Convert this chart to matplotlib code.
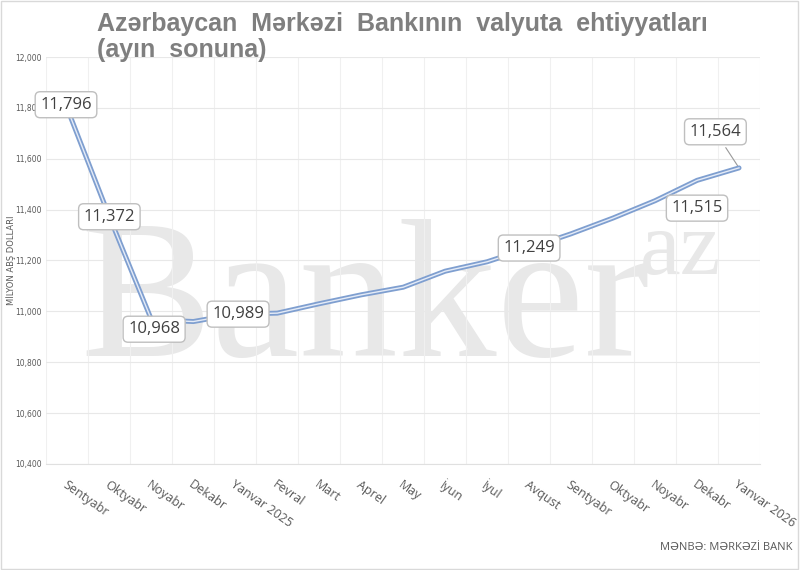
import matplotlib.pyplot as plt
import numpy as np

months = ['Sentyabr', 'Oktyabr', 'Noyabr', 'Dekabr', 'Yanvar 2025', 'Fevral', 'Mart',
          'Aprel', 'May', 'İyun', 'İyul', 'Avqust', 'Sentyabr', 'Oktyabr', 'Noyabr',
          'Dekabr', 'Yanvar 2026']
reserves = [11796, 11372, 10968, 10960, 10989, 10993, 11030, 11065, 11095, 11158,
            11195, 11249, 11305, 11367, 11435, 11515, 11564]
# indices of labelled points and label offsets (points)
labelled = {0: (-1, 3), 1: (0, 0), 2: (2, -7), 4: (2, 0), 11: (0, 0),
            15: (0, -20), 16: (-17, 26)}

fig = plt.figure(figsize=(8, 5.7), dpi=100)
ax = fig.add_axes([0.058, 0.186, 0.892, 0.714])
x = np.arange(len(months))

# watermark, drawn beneath the axes
fig.text(0.1, 0.375, 'Banker', fontsize=142, family='Liberation Serif', color='#e8e8e8', zorder=-1)
fig.text(0.80, 0.52, 'az', fontsize=66, family='Liberation Serif', color='#e8e8e8', zorder=-1)

ax.plot(x, reserves, color='#7f9fd0', lw=3.6, solid_capstyle='round', zorder=3)
ax.plot(x, reserves, color='#e4ebf7', lw=1.0, zorder=4)

for i, (dx, dy) in labelled.items():
    kw = {}
    if i == 16:
        kw = dict(arrowprops=dict(arrowstyle='-', color='#999999', lw=0.8))
    ax.annotate(f'{reserves[i]:,}', (x[i], reserves[i]), xytext=(dx, dy),
                textcoords='offset points', ha='center', va='center',
                fontsize=12, family='Open Sans', color='#404040', zorder=5,
                bbox=dict(boxstyle='round,pad=0.3', fc='white', ec='#bfbfbf', lw=1), **kw)

ax.set_xlim(-0.5, len(months) - 0.5)
ax.set_ylim(10400, 12000)
ax.set_yticks(np.arange(10400, 12001, 200))
ax.yaxis.set_major_formatter(plt.FuncFormatter(lambda v, p: f'{int(v):,}'))
ax.set_xticks(x)
ax.set_xticklabels(months, rotation=-35, ha='left', rotation_mode='anchor',
                   fontsize=9, family=['Open Sans', 'DejaVu Sans'], color='#595959')
ax.set_xticks(np.arange(-0.5, len(months)), minor=True)
ax.tick_params(axis='y', labelsize=5.5, colors='#595959', length=0)
ax.tick_params(axis='x', length=0, pad=10)
ax.tick_params(which='minor', length=0)
ax.grid(axis='y', color='#e8e8e8', lw=0.8)
ax.grid(axis='x', which='minor', color='#f0f0f0', lw=0.8)
ax.set_facecolor('none')
for s in ['top', 'right', 'left']:
    ax.spines[s].set_visible(False)
ax.spines['bottom'].set_color('#e0e0e0')
ax.set_ylabel('MİLYON ABŞ DOLLARI', fontsize=6, color='#595959')
ax.yaxis.set_label_coords(-0.043, 0.5)

fig.text(0.121, 0.935, 'Azərbaycan  Mərkəzi  Bankının  valyuta  ehtiyyatları\n(ayın  sonuna)',
         fontsize=18, fontweight='bold', color='#7f7f7f', va='center',
         family='Liberation Sans', linespacing=1.1)
fig.text(0.99, 0.035, 'MƏNBƏ: MƏRKƏZİ BANK', fontsize=8, color='#595959',
         ha='right', family=['Open Sans', 'DejaVu Sans'])
fig.patches.append(plt.Rectangle((0.001, 0.001), 0.997, 0.997, transform=fig.transFigure,
                                 fill=False, ec='#d9d9d9', lw=1))

plt.savefig('out.png', dpi=100, facecolor='white')
